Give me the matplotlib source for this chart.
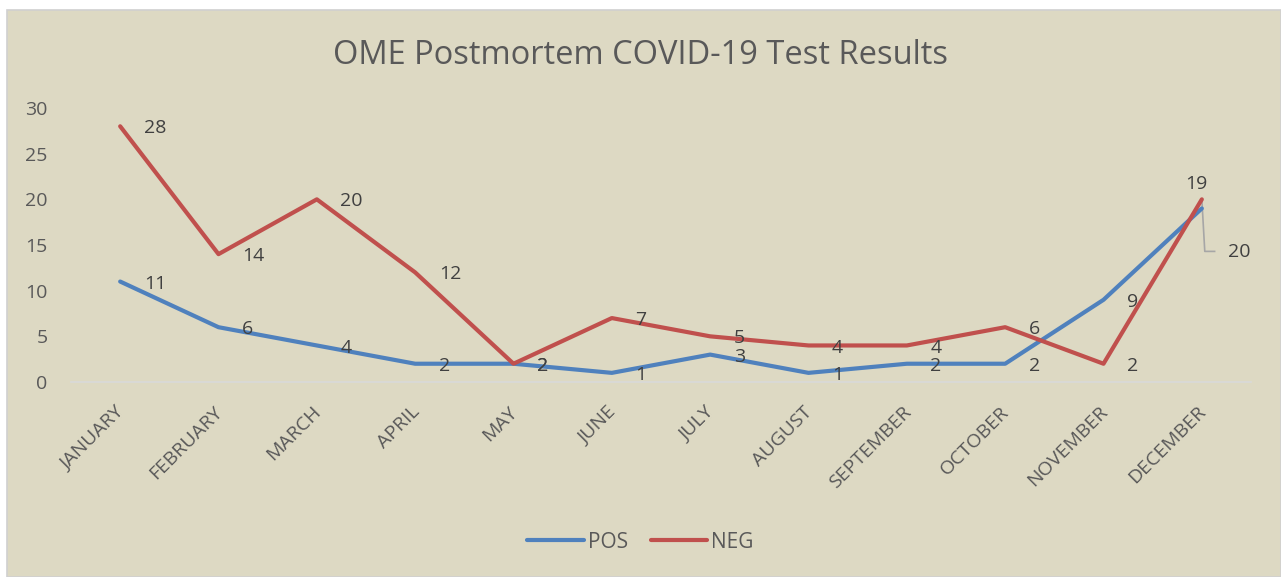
import matplotlib
matplotlib.use("Agg")
import matplotlib.pyplot as plt
from matplotlib.patches import Rectangle
from matplotlib.transforms import ScaledTranslation

months = ["JANUARY", "FEBRUARY", "MARCH", "APRIL", "MAY", "JUNE", "JULY",
          "AUGUST", "SEPTEMBER", "OCTOBER", "NOVEMBER", "DECEMBER"]
pos = [11, 6, 4, 2, 2, 1, 3, 1, 2, 2, 9, 19]
neg = [28, 14, 20, 12, 2, 7, 5, 4, 4, 6, 2, 20]
title = "OME Postmortem COVID-19 Test Results"

plt.rcParams['font.family'] = ['Open Sans', 'DejaVu Sans']

W, H = 1281, 577
fig = plt.figure(figsize=(W / 100, H / 100), dpi=100)
fig.patch.set_facecolor('white')
bg = '#DDD9C3'
fig.patches.append(Rectangle((7 / W, 0), 1 - 7 / W, 1 - 10 / H, transform=fig.transFigure,
                             facecolor=bg, edgecolor='#D0D0D0', linewidth=1.2, zorder=-10))

ax = fig.add_axes([71 / W, 1 - 382 / H, (1251 - 71) / W, (382 - 108) / H])
ax.set_facecolor('none')
ax.set_zorder(5)
x = list(range(len(months)))
blue, red = '#4F81BD', '#C0504D'
ax.plot(x, pos, color=blue, lw=3.0, solid_capstyle='round', solid_joinstyle='round', label='POS', zorder=3)
ax.plot(x, neg, color=red, lw=3.0, solid_capstyle='round', solid_joinstyle='round', label='NEG', zorder=3)

ax.set_xlim(-0.5, len(months) - 0.5)
ax.set_ylim(0, 30)
ax.set_yticks(range(0, 31, 5))
ax.set_xticks(x)
ax.set_xticklabels(months, rotation=45, ha='right', rotation_mode='anchor')
for s in ['top', 'right', 'left']:
    ax.spines[s].set_visible(False)
ax.spines['bottom'].set_color('#D9D9D9')
ax.spines['bottom'].set_linewidth(1.2)
ax.tick_params(axis='both', length=0, colors='#595959', labelsize=14)
ax.tick_params(axis='y', pad=17)
ax.tick_params(axis='x', pad=15)
shift = ScaledTranslation(-5 / 100, 0, fig.dpi_scale_trans)
for lbl in ax.get_xticklabels():
    lbl.set_transform(lbl.get_transform() + shift)

lab_col = '#404040'
fs = 14
for i in range(len(months) - 1):
    ax.annotate(str(pos[i]), (x[i], pos[i]), xytext=(17, -1.5), textcoords='offset points',
                va='center', ha='left', fontsize=fs, color=lab_col)
    ax.annotate(str(neg[i]), (x[i], neg[i]), xytext=(17, -1.5), textcoords='offset points',
                va='center', ha='left', fontsize=fs, color=lab_col)
# December labels
i = len(months) - 1
ax.annotate(str(pos[i]), (x[i], neg[i]), xytext=(-4, 11), textcoords='offset points',
            va='center', ha='center', fontsize=fs, color=lab_col)
ax.annotate(str(neg[i]), (x[i], neg[i]), xytext=(19, -38), textcoords='offset points',
            va='center', ha='left', fontsize=fs, color=lab_col)
ax.plot([x[i], x[i] + 0.03, x[i] + 0.13], [neg[i], 14.3, 14.3], color='#A6A6A6', lw=1.2, zorder=2)

fig.text(0.5, 1 - 56 / H, title, ha='center', va='center', fontsize=23.5, color='#595959')
leg = fig.legend(loc='center', bbox_to_anchor=(0.5, 1 - 542 / H), ncol=2, frameon=False,
                 fontsize=15, labelcolor='#595959', handlelength=2.7, columnspacing=1.1,
                 handletextpad=0.2)

fig.savefig('out.png', dpi=100, facecolor=fig.get_facecolor())
